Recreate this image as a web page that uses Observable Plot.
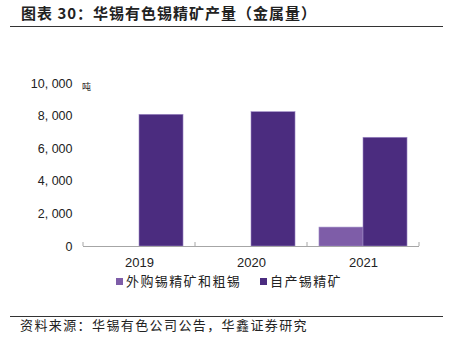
<!DOCTYPE html>
<html>
<head>
<meta charset="utf-8">
<script src="https://cdn.jsdelivr.net/npm/d3@7"></script>
<script src="https://cdn.jsdelivr.net/npm/@observablehq/plot@0.6"></script>
<style>
  html, body { margin: 0; padding: 0; background: #fff; }
  #wrap { position: relative; width: 454px; height: 353px; overflow: hidden; font-family: "Noto Sans CJK SC", sans-serif; color: #222; }
  #title { position: absolute; left: 21px; top: 4px; font-size: 15px; font-weight: bold; letter-spacing: 1px; line-height: 18px; white-space: nowrap; }
  .hline { position: absolute; left: 10px; width: 433px; height: 0; border-top: 1.3px solid #333; }
  #chart { position: absolute; left: 0; top: 30px; }
  #unit { position: absolute; left: 82px; top: 81px; font-size: 9px; line-height: 11px; }
  #legend { position: absolute; top: 272px; left: 0; width: 454px; height: 18px; }
  .lg { position: absolute; top: 0; font-size: 13px; line-height: 18px; letter-spacing: 1.4px; white-space: nowrap; }
  .sw { display: inline-block; width: 7px; height: 7px; margin-right: 3px; vertical-align: 1px; }
  #source { position: absolute; left: 20px; top: 316px; font-size: 13px; line-height: 18px; letter-spacing: 1.4px; white-space: nowrap; }
</style>
</head>
<body>
<div id="wrap">
  <div id="title"></div>
  <div class="hline" style="top:26px"></div>
  <div id="chart"></div>
  <div id="unit"></div>
  <div id="legend"></div>
  <div class="hline" style="top:316px"></div>
  <div id="source"></div>
</div>
<script>
const titleText = "图表 30：华锡有色锡精矿产量（金属量）";
const unitText = "吨";
const sourceText = "资料来源：华锡有色公司公告，华鑫证券研究";
const years = ["2019", "2020", "2021"];
const series = ["外购锡精矿和粗锡", "自产锡精矿"];
const purchased = [0, 0, 1160];
const selfProduced = [8080, 8240, 6670];
const colors = ["#7e5da8", "#4b2c7f"];
const yTicks = [0, 2000, 4000, 6000, 8000, 10000];
const legendLeft = [116, 260];

document.getElementById("title").textContent = titleText;
document.getElementById("unit").textContent = unitText;
document.getElementById("source").textContent = sourceText;

const rows = [];
years.forEach((yr, i) => {
  rows.push({year: yr, series: series[0], value: purchased[i]});
  rows.push({year: yr, series: series[1], value: selfProduced[i]});
});

const W = 454, H = 270, mL = 83, mR = 35, mT = 53, mB = 54;
const band = (W - mL - mR) / years.length;
const barW = band * 0.393;
const pad = (band - 2 * barW) / 2;

const fmt = d => d3.format(",")(d).replace(",", ", ");

const edgeTicks = (index, scales) => {
  const x = scales.x, y = scales.y;
  const bw = x.bandwidth();
  const edges = years.map(d => x(d)).concat([x(years[years.length - 1]) + bw]);
  const g = d3.create("svg:g");
  g.selectAll("line").data(edges).join("line")
    .attr("x1", d => d).attr("x2", d => d)
    .attr("y1", y(0)).attr("y2", y(0) - 4)
    .attr("stroke", "#a6a6a6").attr("stroke-width", 1);
  return g.node();
};

const chart = Plot.plot({
  width: W,
  height: H,
  marginLeft: mL,
  marginRight: mR,
  marginTop: mT,
  marginBottom: mB,
  style: {fontFamily: "'Liberation Sans', Arial, sans-serif", color: "#222", background: "transparent"},
  x: {domain: years, padding: 0, label: null},
  y: {domain: [0, 10000], label: null},
  marks: [
    Plot.barY(rows.filter(d => d.series === series[0]), {
      x: "year", y: "value", fill: colors[0], insetLeft: pad, insetRight: pad + barW,
      stroke: "#9e8ac6", strokeWidth: 0.6
    }),
    Plot.barY(rows.filter(d => d.series === series[1]), {
      x: "year", y: "value", fill: colors[1], insetLeft: pad + barW, insetRight: pad,
      stroke: "#9e8ac6", strokeWidth: 0.6
    }),
    Plot.ruleY([0], {stroke: "#a6a6a6", strokeWidth: 1}),
    edgeTicks,
    Plot.axisY({ticks: yTicks, tickSize: 0, tickPadding: 11, tickFormat: fmt, fontSize: 12.5, label: null}),
    Plot.axisX({tickSize: 0, tickPadding: 11, fontSize: 13, label: null})
  ]
});
document.getElementById("chart").appendChild(chart);

const legend = document.getElementById("legend");
series.forEach((s, i) => {
  const item = document.createElement("div");
  item.className = "lg";
  item.style.left = legendLeft[i] + "px";
  const sw = document.createElement("span");
  sw.className = "sw";
  sw.style.background = colors[i];
  item.appendChild(sw);
  item.appendChild(document.createTextNode(s));
  legend.appendChild(item);
});
</script>
</body>
</html>
